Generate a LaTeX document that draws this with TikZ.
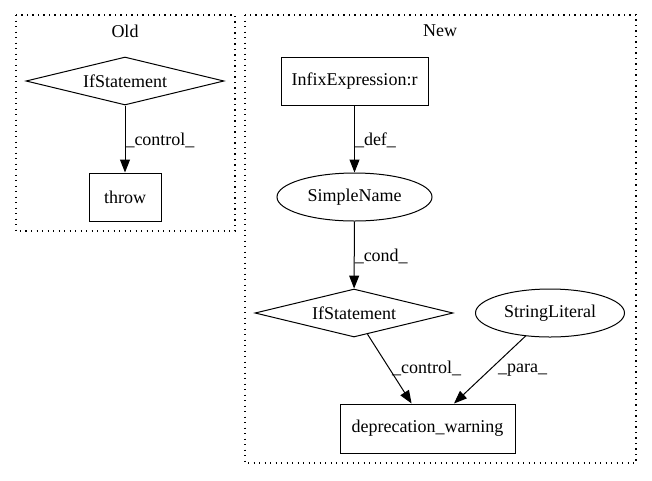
\documentclass[tikz,border=0pt]{standalone}
\usepackage{fontspec}
\setmainfont{Liberation Serif}
\usetikzlibrary{shapes.geometric,arrows.meta}
\begin{document}
\begin{tikzpicture}[x=1pt,y=-1pt,
  every node/.style={font=\fontsize{18}{21}\selectfont},
  cluster/.style={draw, line width=1.1pt, dash pattern=on 1.3pt off 4.2pt},
  boxnode/.style={draw, line width=1pt, rectangle, inner sep=0pt},
  dia/.style={draw, line width=1pt, diamond, aspect=4, inner sep=0pt, minimum width=198pt, minimum height=48pt},
  ell/.style={draw, line width=1pt, ellipse, inner sep=0pt, minimum height=48pt},
  edge/.style={draw, line width=1pt, -{Triangle[length=13pt,width=10pt]}},
  lbl/.style={anchor=west, inner sep=0pt}
]
\useasboundingbox (0,0) rectangle (652,480);
% clusters
\draw[cluster] (16,15) rectangle (235,231);
\node (oldlbl) at (125,31) {Old};
\draw[cluster] (245,15) rectangle (636,463);
\node (newlbl) at (440,31) {New};
% Old nodes
\node[dia] (if1) at (125,81) {IfStatement};
\node[boxnode, minimum width=72pt, minimum height=48pt] (throw) at (125,197) {throw};
\draw[edge] (if1) -- (throw) node[lbl, pos=0.52] {\_control\_};
% New nodes
\node[boxnode, minimum width=147pt, minimum height=48pt] (infix) at (354.5,81) {InfixExpression:r};
\node[ell, minimum width=155pt] (sname) at (354.5,197) {SimpleName};
\node[dia] (if2) at (354,313) {IfStatement};
\node[ell, minimum width=149pt] (slit) at (550,313) {StringLiteral};
\node[boxnode, minimum width=175pt, minimum height=49pt] (dep) at (427.5,428.5) {deprecation\_warning};
\draw[edge] (infix) -- (sname) node[lbl, pos=0.52] {\_def\_};
\draw[edge] (sname) -- (if2) node[lbl, pos=0.52] {\_cond\_};
\draw[edge] (if2) -- (dep) node[lbl, pos=0.5, xshift=2pt] {\_control\_};
\draw[edge] (slit) -- (dep) node[lbl, pos=0.5, xshift=8pt] {\_para\_};
\end{tikzpicture}
\end{document}
